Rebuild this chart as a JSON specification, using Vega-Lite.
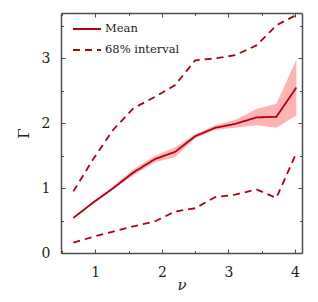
{
  "$schema": "https://vega.github.io/schema/vega-lite/v6.json",
  "width": 241,
  "height": 240,
  "autosize": {"type": "none"},
  "padding": {"left": 61, "top": 13, "right": 16, "bottom": 49},
  "config": {
    "view": {"stroke": null},
    "font": "DejaVu Serif",
    "axis": {
      "domainColor": "#4d4d4d",
      "domainWidth": 1.5,
      "tickColor": "#4d4d4d",
      "tickWidth": 1,
      "grid": false,
      "labelFont": "DejaVu Serif",
      "labelFontSize": 14,
      "labelColor": "#222",
      "titleFont": "DejaVu Serif",
      "titleFontSize": 15,
      "titleFontWeight": "normal",
      "titleColor": "#222"
    }
  },
  "datasets": {
    "band": [
      {"nu": 0.67, "lo": 0.53, "hi": 0.55},
      {"nu": 0.97, "lo": 0.76, "hi": 0.79},
      {"nu": 1.27, "lo": 0.98, "hi": 1.03},
      {"nu": 1.57, "lo": 1.2, "hi": 1.29},
      {"nu": 1.9, "lo": 1.4, "hi": 1.5},
      {"nu": 2.2, "lo": 1.48, "hi": 1.63},
      {"nu": 2.5, "lo": 1.77, "hi": 1.83},
      {"nu": 2.8, "lo": 1.9, "hi": 1.97},
      {"nu": 3.1, "lo": 1.93, "hi": 2.05},
      {"nu": 3.42, "lo": 1.97, "hi": 2.22},
      {"nu": 3.72, "lo": 1.93, "hi": 2.3},
      {"nu": 4.02, "lo": 2.12, "hi": 2.98}
    ],
    "lines": [
      {"nu": 0.67, "line": "mean", "kind": "Mean", "g": 0.54},
      {"nu": 0.97, "line": "mean", "kind": "Mean", "g": 0.78},
      {"nu": 1.27, "line": "mean", "kind": "Mean", "g": 1.0},
      {"nu": 1.57, "line": "mean", "kind": "Mean", "g": 1.24},
      {"nu": 1.9, "line": "mean", "kind": "Mean", "g": 1.45},
      {"nu": 2.2, "line": "mean", "kind": "Mean", "g": 1.56},
      {"nu": 2.5, "line": "mean", "kind": "Mean", "g": 1.8},
      {"nu": 2.8, "line": "mean", "kind": "Mean", "g": 1.93},
      {"nu": 3.1, "line": "mean", "kind": "Mean", "g": 1.99},
      {"nu": 3.42, "line": "mean", "kind": "Mean", "g": 2.09},
      {"nu": 3.72, "line": "mean", "kind": "Mean", "g": 2.1},
      {"nu": 4.02, "line": "mean", "kind": "Mean", "g": 2.55},
      {"nu": 0.67, "line": "upper", "kind": "68% interval", "g": 0.95},
      {"nu": 0.97, "line": "upper", "kind": "68% interval", "g": 1.45},
      {"nu": 1.27, "line": "upper", "kind": "68% interval", "g": 1.9},
      {"nu": 1.57, "line": "upper", "kind": "68% interval", "g": 2.23},
      {"nu": 1.9, "line": "upper", "kind": "68% interval", "g": 2.41},
      {"nu": 2.2, "line": "upper", "kind": "68% interval", "g": 2.59},
      {"nu": 2.5, "line": "upper", "kind": "68% interval", "g": 2.97},
      {"nu": 2.8, "line": "upper", "kind": "68% interval", "g": 3.0},
      {"nu": 3.1, "line": "upper", "kind": "68% interval", "g": 3.05},
      {"nu": 3.42, "line": "upper", "kind": "68% interval", "g": 3.2},
      {"nu": 3.72, "line": "upper", "kind": "68% interval", "g": 3.51},
      {"nu": 4.02, "line": "upper", "kind": "68% interval", "g": 3.67},
      {"nu": 0.67, "line": "lower", "kind": "68% interval", "g": 0.16},
      {"nu": 0.97, "line": "lower", "kind": "68% interval", "g": 0.25},
      {"nu": 1.27, "line": "lower", "kind": "68% interval", "g": 0.33},
      {"nu": 1.57, "line": "lower", "kind": "68% interval", "g": 0.41},
      {"nu": 1.9, "line": "lower", "kind": "68% interval", "g": 0.49},
      {"nu": 2.2, "line": "lower", "kind": "68% interval", "g": 0.64},
      {"nu": 2.5, "line": "lower", "kind": "68% interval", "g": 0.69},
      {"nu": 2.8, "line": "lower", "kind": "68% interval", "g": 0.86},
      {"nu": 3.1, "line": "lower", "kind": "68% interval", "g": 0.9},
      {"nu": 3.42, "line": "lower", "kind": "68% interval", "g": 0.98},
      {"nu": 3.72, "line": "lower", "kind": "68% interval", "g": 0.85},
      {"nu": 4.02, "line": "lower", "kind": "68% interval", "g": 1.54}
    ]
  },
  "layer": [
    {
      "data": {"name": "band"},
      "mark": {"type": "area", "color": "#ffb3b3", "opacity": 1},
      "encoding": {
        "x": {
          "field": "nu", "type": "quantitative",
          "scale": {"domain": [0.485, 4.105], "nice": false, "zero": false},
          "axis": {
            "orient": "bottom", "title": "ν", "titleFontStyle": "italic", "titlePadding": -2,
            "values": [0.5, 1, 1.5, 2, 2.5, 3, 3.5, 4],
            "labelExpr": "datum.value % 1 === 0 ? format(datum.value, 'd') : ''",
            "tickSize": {"condition": {"test": "datum.value % 1 === 0", "value": -4}, "value": -2.5},
            "labelPadding": 16
          }
        },
        "y": {
          "field": "lo", "type": "quantitative",
          "scale": {"domain": [0, 3.7], "nice": false},
          "axis": {
            "orient": "left", "title": "Γ", "titlePadding": 10,
            "values": [0, 0.5, 1, 1.5, 2, 2.5, 3, 3.5],
            "labelExpr": "datum.value % 1 === 0 ? format(datum.value, 'd') : ''",
            "tickSize": {"condition": {"test": "datum.value % 1 === 0", "value": -4}, "value": -2.5},
            "labelPadding": 15
          }
        },
        "y2": {"field": "hi"}
      }
    },
    {
      "data": {"name": "lines"},
      "mark": {"type": "line", "color": "#b30012", "strokeWidth": 1.8},
      "encoding": {
        "x": {
          "field": "nu", "type": "quantitative",
          "axis": {
            "orient": "top", "title": null, "labels": false,
            "values": [0.5, 1, 1.5, 2, 2.5, 3, 3.5, 4],
            "tickSize": {"condition": {"test": "datum.value % 1 === 0", "value": -4}, "value": -2.5}
          }
        },
        "y": {
          "field": "g", "type": "quantitative",
          "axis": {
            "orient": "right", "title": null, "labels": false,
            "values": [0, 0.5, 1, 1.5, 2, 2.5, 3, 3.5],
            "tickSize": {"condition": {"test": "datum.value % 1 === 0", "value": -4}, "value": -2.5}
          }
        },
        "detail": {"field": "line"},
        "strokeDash": {
          "field": "kind", "type": "nominal",
          "scale": {"domain": ["Mean", "68% interval"], "range": [[1, 0], [7, 5]]},
          "legend": {
            "title": null,
            "orient": "none",
            "legendX": 11,
            "legendY": 1,
            "symbolType": "stroke",
            "symbolSize": 784,
            "symbolStrokeColor": "#b30012",
            "symbolStrokeWidth": 1.8,
            "labelFont": "DejaVu Serif",
            "labelFontSize": 11.5,
            "labelColor": "#222",
            "labelOffset": 3,
            "rowPadding": -9,
            "padding": 0
          }
        }
      }
    }
  ],
  "resolve": {"axis": {"x": "independent", "y": "independent"}}
}
